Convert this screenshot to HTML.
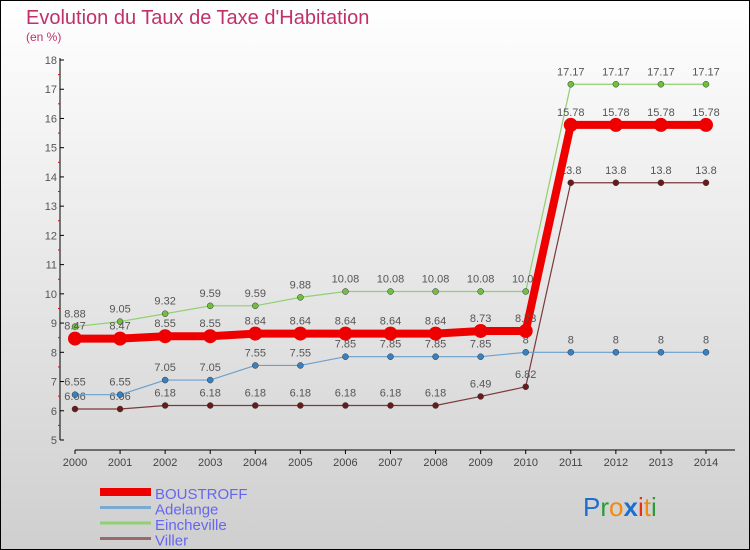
<!DOCTYPE html>
<html><head><meta charset="utf-8"><style>
html,body{margin:0;padding:0}
body{width:750px;height:550px;overflow:hidden;font-family:"Liberation Sans",sans-serif}
#wrap{position:absolute;left:0;top:0;width:748px;height:548px;border:1px solid #000;background:linear-gradient(#ffffff,#cfcfcf)}
</style></head><body>
<div id="wrap">
<svg id="chart" width="750" height="550" style="position:absolute;left:-1px;top:-1px">
<text x="26" y="24" font-size="20" fill="#c0306a">Evolution du Taux de Taxe d'Habitation</text>
<text x="26" y="41" font-size="12" fill="#c0306a">(en %)</text>
<g id="axes"></g><g id="series"></g><g id="legend"></g>
<text x="583" y="516" font-size="26"><tspan fill="#1a6fd0">P</tspan><tspan fill="#2a9a3a">r</tspan><tspan fill="#f08a10">o</tspan><tspan fill="#1a6fd0" font-weight="bold">x</tspan><tspan fill="#e83010">i</tspan><tspan fill="#f08a10">t</tspan><tspan fill="#2a9a3a">i</tspan></text>
</svg>
</div>
<script>
const years=[2000,2001,2002,2003,2004,2005,2006,2007,2008,2009,2010,2011,2012,2013,2014];
const yTicks=[5,6,7,8,9,10,11,12,13,14,15,16,17,18];
const boustroff=[8.47,8.47,8.55,8.55,8.64,8.64,8.64,8.64,8.64,8.73,8.73,15.78,15.78,15.78,15.78];
const adelange=[6.55,6.55,7.05,7.05,7.55,7.55,7.85,7.85,7.85,7.85,8,8,8,8,8];
const eincheville=[8.88,9.05,9.32,9.59,9.59,9.88,10.08,10.08,10.08,10.08,10.08,17.17,17.17,17.17,17.17];
const viller=[6.06,6.06,6.18,6.18,6.18,6.18,6.18,6.18,6.18,6.49,6.82,13.8,13.8,13.8,13.8];
const names=["BOUSTROFF","Adelange","Eincheville","Viller"];
const NS="http://www.w3.org/2000/svg";
const x=i=>75+i*(706-75)/(years.length-1);
const y=v=>440-(v-5)*(380/13);
function mk(t,a,p){const e=document.createElementNS(NS,t);for(const k in a)e.setAttribute(k,a[k]);p.appendChild(e);return e;}
const axes=document.getElementById('axes');
let ax=mk('line',{x1:60,y1:58,x2:60,y2:440,stroke:'#000'},axes);


let xx=mk('line',{x1:75,y1:450,x2:735,y2:450,stroke:'#000'},axes);


yTicks.forEach(v=>{
 mk('line',{x1:60,y1:y(v),x2:64,y2:y(v),stroke:'#000'},axes);
 if(v<18)mk('line',{x1:58,y1:y(v+0.5),x2:60,y2:y(v+0.5),stroke:'#e00'},axes);
 const t=mk('text',{x:57,y:y(v)+4,'font-size':11,'text-anchor':'end',fill:'#555'},axes);t.textContent=v;
 
 
});
years.forEach((yr,i)=>{
 mk('line',{x1:x(i),y1:450,x2:x(i),y2:454,stroke:'#000'},axes);
 const t=mk('text',{x:x(i),y:466,'font-size':11,'text-anchor':'middle',fill:'#444'},axes);t.textContent=yr;
 
 
});
const S=document.getElementById('series');
function draw(data,color,width,r,dot,nm,labels){
 const g=mk('g',{},S);
 
 
 const p=mk('polyline',{points:data.map((v,i)=>x(i)+','+y(v)).join(' '),fill:'none',stroke:color,'stroke-width':width},g);
 
 
 data.forEach((v,i)=>{
  const c=mk('circle',{cx:x(i),cy:y(v),r:r,fill:dot,stroke:width>3?'none':'#333','stroke-width':0.5},g);
  
  
  if(labels){const t=mk('text',{x:x(i),y:y(v)-9,'font-size':11,'text-anchor':'middle',fill:'#555'},g);t.textContent=v;
  
  }
 });
}
draw(viller,'#7a3a3a',1.2,3,'#6a1a1a','viller',true);
draw(adelange,'#6aa0d0',1.2,3,'#3a80c0','adelange',true);
draw(eincheville,'#90d070',1.2,3,'#70c040','eincheville',true);
draw(boustroff,'#ee0000',8,7,'#ee0000','boustroff',true);
const L=document.getElementById('legend');
const lc=['#ee0000','#7aaacf','#90d070','#9a6a6a'],lw=[8,3,3,3];
names.forEach((n,i)=>{
 const yy=492+i*15.5;
 const l=mk('line',{x1:100,y1:yy,x2:151,y2:yy,stroke:lc[i],'stroke-width':lw[i]},L);
 
 
 const t=mk('text',{x:155,y:yy+7,'font-size':15,fill:'#6666ee'},L);t.textContent=n;
 
 
});
</script>
</body></html>
